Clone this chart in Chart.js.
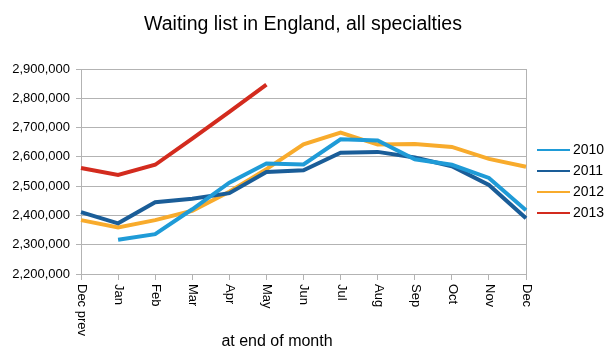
<!DOCTYPE html>
<html>
<head>
<meta charset="utf-8">
<script src="https://cdn.jsdelivr.net/npm/chart.js@4/dist/chart.umd.min.js"></script>
<style>
  html, body { margin: 0; padding: 0; background: #fff; }
  canvas { display: block; }
</style>
</head>
<body>
<canvas id="c" width="613" height="357"></canvas>
<script>
const categories = ['Dec prev', 'Jan', 'Feb', 'Mar', 'Apr', 'May', 'Jun', 'Jul', 'Aug', 'Sep', 'Oct', 'Nov', 'Dec'];
const seriesNames = ['2010', '2011', '2012', '2013'];
const values2010 = [null, 2317000, 2336000, 2421000, 2512000, 2577000, 2574000, 2660000, 2656000, 2592000, 2573000, 2528000, 2418000];
const values2011 = [2411000, 2373000, 2445000, 2457000, 2476000, 2548000, 2554000, 2614000, 2617000, 2598000, 2568000, 2504000, 2390000];
const values2012 = [2384000, 2359000, 2384000, 2416000, 2481000, 2558000, 2643000, 2683000, 2642000, 2644000, 2634000, 2593000, 2566000];
const values2013 = [2562000, 2538000, 2573000, 2662000, 2754000, 2847000];
const yMin = 2200000;
const yMax = 2900000;
const yStep = 100000;
const titleText = 'Waiting list in England, all specialties';
const xAxisTitle = 'at end of month';

const colors = ['#1f9bd7', '#1a5d98', '#f8ab2c', '#d32b1e'];
const FONT = "'Liberation Sans', Arial, sans-serif";
const GRID = '#b3b3b3';

const allValues = [values2010, values2011, values2012, values2013];

const textPlugin = {
  id: 'textPlugin',
  afterDraw(chart) {
    const ctx = chart.ctx;
    const xs = chart.scales.x;
    ctx.save();
    ctx.fillStyle = '#000';
    // title
    ctx.font = '19.5px ' + FONT;
    ctx.textAlign = 'center';
    ctx.textBaseline = 'alphabetic';
    ctx.fillText(titleText, 303, 30);
    // x axis title
    ctx.font = '16px ' + FONT;
    ctx.fillText(xAxisTitle, 277, 346);
    // rotated x labels (reading top to bottom)
    ctx.font = '13px ' + FONT;
    ctx.textAlign = 'left';
    ctx.textBaseline = 'middle';
    xs.ticks.forEach((t, i) => {
      const x = xs.getPixelForTick(i);
      ctx.save();
      ctx.translate(x + 0.5, chart.chartArea.bottom + 10);
      ctx.rotate(Math.PI / 2);
      ctx.fillText(xs.getLabelForValue(t.value), 0, 0);
      ctx.restore();
    });
    // legend
    ctx.font = '14px ' + FONT;
    ctx.textAlign = 'left';
    ctx.textBaseline = 'middle';
    chart.data.datasets.forEach((ds, i) => {
      const y = 150 + i * 21;
      ctx.strokeStyle = ds.borderColor;
      ctx.lineWidth = 2;
      ctx.beginPath();
      ctx.moveTo(537, y);
      ctx.lineTo(570, y);
      ctx.stroke();
      ctx.fillText(ds.label, 573, y + 0.5);
    });
    ctx.restore();
  }
};

new Chart(document.getElementById('c'), {
  type: 'line',
  data: {
    labels: categories,
    datasets: seriesNames.map((name, i) => ({
      label: name,
      data: allValues[i],
      borderColor: colors[i],
      backgroundColor: colors[i],
      borderWidth: 4,
      pointRadius: 0,
      pointHoverRadius: 0,
      tension: 0,
      fill: false,
      spanGaps: false
    }))
  },
  options: {
    responsive: false,
    animation: false,
    devicePixelRatio: 1,
    layout: { padding: { top: 69, left: 0, right: 87, bottom: 0 } },
    plugins: {
      legend: { display: false },
      title: { display: false },
      tooltip: { enabled: false }
    },
    scales: {
      x: {
        type: 'category',
        offset: false,
        afterFit(scale) { scale.height = 83; },
        ticks: { display: false, autoSkip: false },
        border: { display: true, color: GRID, width: 1 },
        grid: {
          display: true,
          drawOnChartArea: true,
          drawTicks: true,
          tickLength: 6,
          tickColor: GRID,
          color: (c) => (c.index === categories.length - 1 ? GRID : 'rgba(0,0,0,0)')
        }
      },
      y: {
        min: yMin,
        max: yMax,
        afterFit(scale) { scale.width = 81; },
        ticks: {
          stepSize: yStep,
          padding: 6,
          color: '#000',
          font: { family: FONT, size: 13 },
          callback: (v) => Number(v).toLocaleString('en-US')
        },
        border: { display: true, color: GRID, width: 1 },
        grid: { color: GRID, tickLength: 5, drawTicks: true, tickColor: GRID }
      }
    }
  },
  plugins: [textPlugin]
});
</script>
</body>
</html>
